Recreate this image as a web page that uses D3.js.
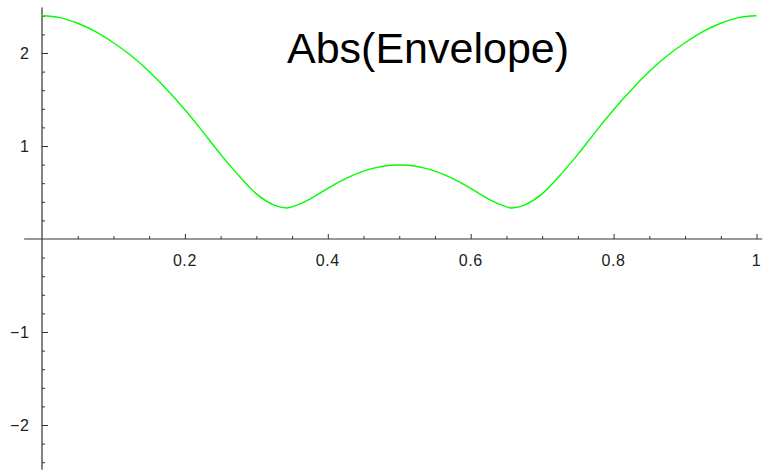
<!DOCTYPE html>
<html>
<head>
<meta charset="utf-8">
<script src="https://cdn.jsdelivr.net/npm/d3@7"></script>
<style>
  html, body { margin: 0; padding: 0; background: #fff; }
  svg { display: block; }
</style>
</head>
<body>
<svg id="chart" width="770" height="473"></svg>
<script>
// ---- data ----
const title = "Abs(Envelope)";
const xValues = [0, 0.025, 0.05, 0.075, 0.1, 0.125, 0.15, 0.175, 0.2, 0.225, 0.25, 0.275, 0.3, 0.325, 0.34, 0.35, 0.375, 0.4, 0.425, 0.45, 0.475, 0.5,
                 0.525, 0.55, 0.575, 0.6, 0.625, 0.65, 0.66, 0.675, 0.7, 0.725, 0.75, 0.775, 0.8, 0.825, 0.85, 0.875, 0.9, 0.925, 0.95, 0.975, 1];
const yValues = [2.40, 2.38, 2.32, 2.23, 2.11, 1.97, 1.80, 1.605, 1.39, 1.155, 0.91, 0.685, 0.485, 0.365, 0.335, 0.345, 0.43, 0.545, 0.65, 0.73, 0.78, 0.795,
                 0.78, 0.73, 0.65, 0.545, 0.43, 0.345, 0.335, 0.365, 0.485, 0.685, 0.91, 1.155, 1.39, 1.605, 1.80, 1.97, 2.11, 2.23, 2.32, 2.38, 2.40];
const xMajorTicks = [0.2, 0.4, 0.6, 0.8, 1];
const xTickLabels = ["0.2", "0.4", "0.6", "0.8", "1"];
const xMinorTicks = [0.05, 0.1, 0.15, 0.25, 0.3, 0.35, 0.45, 0.5, 0.55, 0.65, 0.7, 0.75, 0.85, 0.9, 0.95];
const yMajorTicks = [-2, -1, 1, 2];
const yTickLabels = ["\u22122", "\u22121", "1", "2"];
const yMinorTicks = [-2.4, -2.2, -1.8, -1.6, -1.4, -1.2, -0.8, -0.6, -0.4, -0.2, 0.2, 0.4, 0.6, 0.8, 1.2, 1.4, 1.6, 1.8, 2.2, 2.4];
const xExtent = [-0.025, 1.008];
const yExtent = [-2.48, 2.49];

// ---- drawing ----
const svg = d3.select("#chart");
const x = d3.scaleLinear().domain([0, 1]).range([42, 756.5]);
const y = d3.scaleLinear().domain([0, 1]).range([239, 146]);

const axisColor = "#333";
const labelFont = "Liberation Sans, Arial, sans-serif";
const g = svg.append("g");

// x axis
const xAxis = d3.axisTop(x).tickValues(xMajorTicks).tickSize(5).tickFormat("");
const gx = g.append("g").attr("transform", `translate(0,${y(0)})`).call(xAxis);
gx.select(".domain").remove();
gx.selectAll(".tick line").attr("stroke", axisColor).attr("stroke-width", 1);
const xMinor = d3.axisTop(x).tickValues(xMinorTicks).tickSize(3).tickFormat("");
const gxm = g.append("g").attr("transform", `translate(0,${y(0)})`).call(xMinor);
gxm.select(".domain").remove();
gxm.selectAll(".tick line").attr("stroke", axisColor).attr("stroke-width", 1);
g.append("line")
  .attr("x1", x(xExtent[0])).attr("x2", x(xExtent[1]))
  .attr("y1", y(0)).attr("y2", y(0))
  .attr("stroke", axisColor).attr("stroke-width", 1.2);
g.append("g").selectAll("text").data(xMajorTicks).join("text")
  .attr("x", d => x(d))
  .attr("y", y(0) + 26.7)
  .attr("text-anchor", "middle")
  .attr("font-family", labelFont)
  .attr("font-size", 16)
  .attr("letter-spacing", 0.6)
  .attr("fill", "#222")
  .text((d, i) => xTickLabels[i]);

// y axis
const yAxis = d3.axisRight(y).tickValues(yMajorTicks).tickSize(6).tickFormat("");
const gy = g.append("g").attr("transform", `translate(${x(0)},0)`).call(yAxis);
gy.select(".domain").remove();
gy.selectAll(".tick line").attr("stroke", axisColor).attr("stroke-width", 1);
const yMinor = d3.axisRight(y).tickValues(yMinorTicks).tickSize(3).tickFormat("");
const gym = g.append("g").attr("transform", `translate(${x(0)},0)`).call(yMinor);
gym.select(".domain").remove();
gym.selectAll(".tick line").attr("stroke", axisColor).attr("stroke-width", 1);
g.append("line")
  .attr("x1", x(0)).attr("x2", x(0))
  .attr("y1", y(yExtent[1])).attr("y2", y(yExtent[0]))
  .attr("stroke", axisColor).attr("stroke-width", 1.2);
g.append("g").selectAll("text").data(yMajorTicks).join("text")
  .attr("x", x(0) - 12.5)
  .attr("y", d => y(d) + 5.6)
  .attr("text-anchor", "end")
  .attr("font-family", labelFont)
  .attr("font-size", 16)
  .attr("letter-spacing", 0.6)
  .attr("fill", "#222")
  .text((d, i) => yTickLabels[i]);

// curve
const pts = xValues.map((v, i) => [v, yValues[i]]);
const line = d3.line()
  .x(d => x(d[0]))
  .y(d => y(d[1]))
  .curve(d3.curveNatural);
svg.append("path")
  .attr("d", line(pts))
  .attr("fill", "none")
  .attr("stroke", "#00ff00")
  .attr("stroke-width", 1.4);

// title
svg.append("text")
  .attr("x", 287)
  .attr("y", 63)
  .attr("font-family", labelFont)
  .attr("font-size", 43)
  .attr("fill", "#000")
  .text(title);
</script>
</body>
</html>
